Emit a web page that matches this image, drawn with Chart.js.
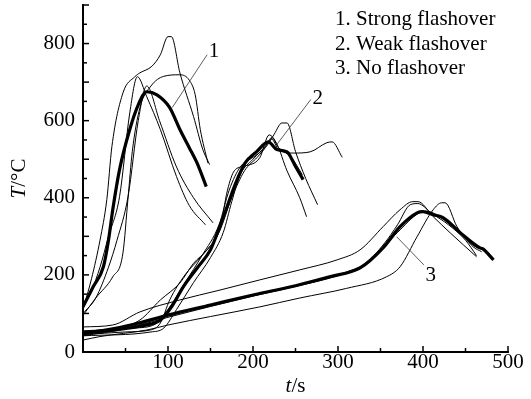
<!DOCTYPE html>
<html>
<head>
<meta charset="utf-8">
<script src="https://cdn.jsdelivr.net/npm/chart.js@4.4.0/dist/chart.umd.min.js"></script>
<style>
    html, body { margin: 0; padding: 0; background: #fff; }
    #wrap { width: 531px; height: 399px; }
</style>
</head>
<body>
<div id="wrap"><canvas id="tempChart" width="531" height="399"></canvas></div>
<script>
// 1. Strong flashover (four runs + average)
const strongTime1 = [0, 10, 20, 28, 34, 47, 61, 67, 81, 91, 100, 104, 114, 130, 141, 149];
const strongTemp1 = [110, 190, 290, 395, 533, 672, 714, 724, 741, 771, 818, 818, 724, 611, 525, 486];
const strongTime2 = [0, 10, 20, 30, 43, 55, 64, 75, 91, 110, 125, 144];
const strongTemp2 = [125, 160, 220, 300, 403, 620, 714, 662, 577, 455, 380, 330];
const strongTime3 = [0, 15, 30, 40, 53, 65, 75, 90, 110, 130, 153];
const strongTemp3 = [100, 140, 220, 290, 403, 600, 690, 600, 480, 400, 335];
const strongTime4 = [0, 15, 35, 47, 53, 58, 67, 80, 95, 114, 125, 132, 138, 147];
const strongTemp4 = [95, 140, 195, 257, 400, 520, 634, 690, 715, 719, 705, 667, 577, 490];
const strongMeanTime = [0, 12, 24, 30, 35, 43, 55, 65, 75, 87, 102, 114, 125, 134, 145];
const strongMeanTemp = [117, 169, 221, 290, 369, 473, 577, 641, 675, 667, 634, 577, 530, 491, 429];

// 2. Weak flashover
const weakTime1 = [0, 40, 67, 91, 114, 130, 146, 161, 170, 178, 190, 208, 219, 228, 240, 255, 263];
const weakTemp1 = [52, 62, 83, 135, 179, 230, 265, 320, 420, 470, 482, 504, 563, 540, 470, 400, 351];
const weakTime2 = [0, 50, 79, 91, 102, 120, 140, 160, 175, 190, 205, 218, 225, 234, 240, 250, 262, 276];
const weakTemp2 = [45, 52, 57, 75, 135, 200, 250, 310, 400, 470, 505, 540, 565, 594, 594, 520, 450, 382];
const weakTime3 = [0, 60, 85, 100, 120, 140, 160, 172, 185, 200, 212, 222, 230, 248, 267, 287, 293, 305];
const weakTemp3 = [55, 62, 72, 110, 180, 250, 330, 420, 480, 505, 525, 552, 525, 516, 519, 543, 545, 505];
const weakTime4 = [0, 80, 95, 110, 130, 150, 165, 175, 185, 200, 215, 222, 230, 245, 258];
const weakTemp4 = [42, 52, 62, 110, 180, 245, 310, 390, 460, 500, 535, 556, 530, 505, 460];
const weakMeanTime = [0, 40, 70, 91, 105, 118, 135, 150, 160, 170, 180, 191, 204, 218, 228, 240, 250, 259];
const weakMeanTemp = [50, 58, 68, 83, 120, 169, 220, 265, 320, 380, 440, 491, 519, 545, 525, 519, 481, 447];

// 3. No flashover
const noneTime1 = [0, 35, 67, 114, 160, 208, 255, 299, 326, 353, 373, 388, 394, 412, 432, 463];
const noneTemp1 = [65, 70, 104, 135, 160, 187, 213, 239, 265, 325, 369, 390, 390, 351, 309, 247];
const noneTime2 = [0, 20, 75, 100, 150, 208, 255, 310, 357, 373, 393, 412, 422, 426, 440, 459, 469];
const noneTemp2 = [31, 40, 57, 70, 92, 117, 140, 165, 195, 221, 299, 369, 387, 387, 325, 273, 260];
const noneTime3 = [0, 50, 100, 150, 200, 250, 300, 330, 355, 370, 385, 394, 410, 430, 450, 463];
const noneTemp3 = [42, 60, 90, 118, 145, 170, 198, 225, 283, 330, 382, 385, 360, 330, 290, 250];
const noneTime4 = [0, 50, 100, 150, 200, 250, 300, 340, 370, 395, 405, 420, 440, 460, 475];
const noneTemp4 = [45, 62, 93, 120, 147, 172, 200, 240, 310, 360, 365, 350, 315, 275, 262];
const noneMeanTime = [0, 30, 60, 100, 150, 200, 250, 290, 326, 353, 373, 393, 400, 412, 424, 444, 467, 470, 483];
const noneMeanTemp = [48, 58, 72, 96, 122, 148, 172, 195, 218, 270, 325, 361, 364, 356, 348, 309, 270, 268, 239];

const legendLines = ['1. Strong flashover', '2. Weak flashover', '3. No flashover'];

const serif = '"Liberation Serif", "DejaVu Serif", serif';

function pts(times, temps) {
    return times.map((t, i) => ({ x: t, y: temps[i] }));
}

function thin(times, temps) {
    return { data: pts(times, temps), borderColor: '#000', borderWidth: 1 };
}

function thick(times, temps) {
    return { data: pts(times, temps), borderColor: '#000', borderWidth: 3.2 };
}

// curve numbers with leader lines, in data units
const callouts = [
    { text: '1', at: [148, 764], from: [146, 771], to: [105, 634] },
    { text: '2', at: [270, 642], from: [268, 655], to: [228, 538] },
    { text: '3', at: [403, 184], from: [401, 226], to: [369, 299] }
];

// inward tick marks, axis titles, key and callouts
const decorations = {
    id: 'decorations',
    afterDraw(chart) {
        const { ctx, chartArea, scales: { x, y } } = chart;
        ctx.save();
        ctx.strokeStyle = '#000';
        ctx.lineWidth = 1.5;
        for (let v = 0; v <= 500; v += 50) {
            const px = x.getPixelForValue(v);
            const len = v % 100 === 0 ? 6 : 4;
            ctx.beginPath();
            ctx.moveTo(px, chartArea.bottom);
            ctx.lineTo(px, chartArea.bottom - len);
            ctx.stroke();
        }
        for (let v = 0; v <= 900; v += 50) {
            const py = y.getPixelForValue(v);
            const len = v % 100 === 0 ? 6 : 4;
            ctx.beginPath();
            ctx.moveTo(chartArea.left, py);
            ctx.lineTo(chartArea.left + len, py);
            ctx.stroke();
        }

        ctx.fillStyle = '#000';
        ctx.textBaseline = 'alphabetic';

        // x title: t/s
        ctx.font = 'italic 21px ' + serif;
        const tW = ctx.measureText('t').width;
        ctx.font = '21px ' + serif;
        const sW = ctx.measureText('/s').width;
        let cx = (chartArea.left + chartArea.right) / 2 - (tW + sW) / 2;
        ctx.font = 'italic 21px ' + serif;
        ctx.fillText('t', cx, 392);
        ctx.font = '21px ' + serif;
        ctx.fillText('/s', cx + tW, 392);

        // y title: T/°C
        ctx.save();
        ctx.translate(25, (chartArea.top + chartArea.bottom) / 2);
        ctx.rotate(-Math.PI / 2);
        ctx.font = 'italic 21px ' + serif;
        const TW = ctx.measureText('T').width;
        ctx.font = '21px ' + serif;
        const cW = ctx.measureText('/°C').width;
        ctx.font = 'italic 21px ' + serif;
        ctx.fillText('T', -(TW + cW) / 2, 0);
        ctx.font = '21px ' + serif;
        ctx.fillText('/°C', -(TW + cW) / 2 + TW, 0);
        ctx.restore();

        // key in the top right
        ctx.font = '21px ' + serif;
        legendLines.forEach((line, i) => {
            ctx.fillText(line, 335, 25 + i * 24.5);
        });

        // numbered callouts
        ctx.lineWidth = 0.8;
        ctx.strokeStyle = '#333';
        callouts.forEach(c => {
            ctx.beginPath();
            ctx.moveTo(x.getPixelForValue(c.from[0]), y.getPixelForValue(c.from[1]));
            ctx.lineTo(x.getPixelForValue(c.to[0]), y.getPixelForValue(c.to[1]));
            ctx.stroke();
            ctx.fillText(c.text, x.getPixelForValue(c.at[0]), y.getPixelForValue(c.at[1]));
        });
        ctx.restore();
    }
};

const ctx = document.getElementById('tempChart').getContext('2d');
const tempChart = new Chart(ctx, {
    type: 'line',
    data: {
        datasets: [
            thin(strongTime1, strongTemp1),
            thin(strongTime2, strongTemp2),
            thin(strongTime3, strongTemp3),
            thin(strongTime4, strongTemp4),
            thick(strongMeanTime, strongMeanTemp),
            thin(weakTime1, weakTemp1),
            thin(weakTime2, weakTemp2),
            thin(weakTime3, weakTemp3),
            thin(weakTime4, weakTemp4),
            thick(weakMeanTime, weakMeanTemp),
            thin(noneTime1, noneTemp1),
            thin(noneTime2, noneTemp2),
            thin(noneTime3, noneTemp3),
            thin(noneTime4, noneTemp4),
            thick(noneMeanTime, noneMeanTemp)
        ]
    },
    options: {
        responsive: false,
        animation: false,
        layout: { padding: { top: 5, right: 23, left: 0, bottom: 0 } },
        elements: {
            point: { radius: 0 },
            line: { cubicInterpolationMode: 'monotone', fill: false }
        },
        plugins: {
            legend: { display: false },
            tooltip: { enabled: false }
        },
        scales: {
            x: {
                type: 'linear',
                min: 0,
                max: 500,
                grid: { display: false, drawTicks: false },
                border: { display: true, color: '#000', width: 2 },
                ticks: {
                    stepSize: 50,
                    autoSkip: false,
                    maxRotation: 0,
                    padding: -2,
                    color: '#000',
                    font: { family: serif, size: 21 },
                    callback: v => (v % 100 === 0 && v > 0 ? v : '')
                },
                afterFit: s => {
                    s.height = 47;
                    s.paddingLeft = 0;
                    s.paddingRight = 0;
                }
            },
            y: {
                type: 'linear',
                min: 0,
                max: 900,
                grid: { display: false, drawTicks: false },
                border: { display: true, color: '#000', width: 2 },
                ticks: {
                    stepSize: 50,
                    autoSkip: false,
                    padding: 8,
                    color: '#000',
                    font: { family: serif, size: 21 },
                    callback: v => (v % 200 === 0 ? v : '')
                },
                afterFit: s => {
                    s.width = 83;
                    s.paddingTop = 0;
                    s.paddingBottom = 0;
                }
            }
        }
    },
    plugins: [decorations]
});
</script>
</body>
</html>
